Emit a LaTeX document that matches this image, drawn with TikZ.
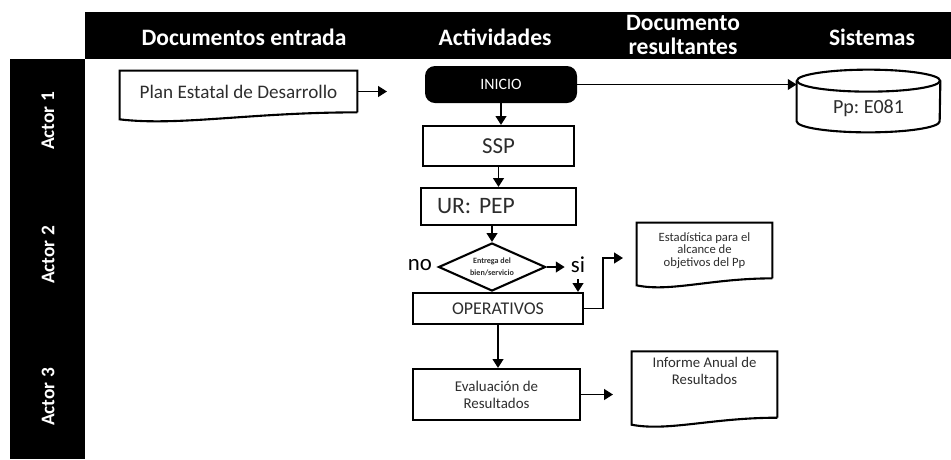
\documentclass[tikz,border=0pt]{standalone}
\usepackage{fontspec}
\setmainfont{Carlito}
\usetikzlibrary{shapes.geometric, arrows.meta, calc}
\frenchspacing

\definecolor{inkgray}{RGB}{45,45,45}

\tikzstyle{lane} = [fill=black]
\tikzstyle{header} = [
    text=white,
    align=center,
    font=\fontsize{13.4}{13.6}\selectfont\bfseries
]
\tikzstyle{actor} = [
    text=white,
    rotate=90,
    font=\fontsize{11}{13}\selectfont\bfseries
]
\tikzstyle{startstop} = [
    rectangle,
    rounded corners=2mm,
    fill=black,
    text=white
]
\tikzstyle{process} = [
    rectangle,
    draw=black,
    line width=1.2pt,
    text=inkgray,
    align=center
]
\tikzstyle{docbox} = [
    rectangle,
    text=inkgray,
    align=center
]
\tikzstyle{decision} = [
    diamond,
    shape aspect=2.2,
    draw=black,
    line width=1.2pt,
    inner sep=0pt,
    text=inkgray,
    align=center
]
\tikzstyle{answer} = [text=black, font=\fontsize{13}{15}\selectfont]
\tikzstyle{connector} = [line width=1.2pt]
\tikzstyle{arrow} = [line width=1.1pt,-{Triangle[length=5pt,width=6pt]}]

% outline of a document node, wavy bottom
\newcommand{\docframe}[1]{%
  \draw[connector] (#1.south east) -- (#1.north east) -- (#1.north west)
    -- ($(#1.south west)+(0,7)$)
    .. controls ($(#1.south west)!0.25!(#1.south east)+(0,14)$)
    and ($(#1.south west)!0.55!(#1.south east)$) .. (#1.south east);
}

\begin{document}
\begin{tikzpicture}[x=0.2mm, y=-0.2mm]
\useasboundingbox (0,0) rectangle (951,459);

% lanes
\fill[lane] (85,12) rectangle (951,59);
\fill[lane] (10,59) rectangle (85,459);

\node (hdoc) [header] at (244,37) {Documentos entrada};
\node (hact) [header] at (495,37) {Actividades};
\node (hres) [header] at (683,35) {Documento\\resultantes};
\node (hsis) [header] at (872,37) {Sistemas};

\node (actor1) [actor] at (48,121) {Actor 1};
\node (actor2) [actor] at (48,255) {Actor 2};
\node (actor3) [actor] at (48,397) {Actor 3};

% input document
\node (plan) [docbox, minimum width=47.4mm, minimum height=8.2mm,
    font=\fontsize{10.9}{12}\selectfont] at (238.5,91.5)
{Plan Estatal de Desarrollo};
\docframe{plan}
\coordinate (planend) at (387,91);

% activities
\node (inicio) [startstop, minimum width=30.4mm, minimum height=7.4mm,
    font=\fontsize{9}{10}\selectfont] at (501,84.5) {INICIO};

\node (ssp) [process, minimum width=30.2mm, minimum height=8mm,
    font=\fontsize{13}{15}\selectfont] at (498.5,146) {SSP};

\node (urpep) [process, text width=24.6mm, inner xsep=3.2mm, align=left,
    minimum height=7.4mm, font=\fontsize{13.4}{15}\selectfont]
    at (498.5,206.5) {UR: PEP};

\node (entrega) [decision, minimum width=21.4mm, minimum height=9.6mm,
    font=\fontsize{4.6}{6.5}\selectfont\bfseries] at (492,267)
{Entrega del\\bien/servicio};

\node (no) [answer] at (420,265) {no};
\node (si) [answer] at (578,265) {si};

\node (operativos) [process, minimum width=34mm, minimum height=6.2mm,
    font=\fontsize{10.2}{12}\selectfont] at (498,308.5) {OPERATIVOS};

\node (evaluacion) [process, minimum width=33.4mm, minimum height=10.2mm,
    font=\fontsize{8.5}{9.6}\selectfont] at (496.5,394.5)
{Evaluación de\\Resultados};

% resulting documents
\node (estadistica) [docbox, minimum width=27mm, minimum height=11mm,
    font=\fontsize{7.2}{7.2}\selectfont] at (704.5,250.5)
{Estadística para el\\alcance de\\objetivos del Pp};
\docframe{estadistica}
\coordinate (estin) at (623,258);

\node (informe) [docbox, minimum width=29mm, minimum height=11mm,
    font=\fontsize{8.4}{9.6}\selectfont] at (704.5,384.5)
{Informe Anual de\\Resultados\\[2mm]};
\docframe{informe}
\coordinate (infin) at (613,393);

% system
\node (sistema) [docbox, minimum width=28.6mm, minimum height=8mm,
    font=\fontsize{11.4}{13}\selectfont] at (868.5,108) {Pp: E081};
\draw[connector] ($(sistema.north)+(0,-7)$) ellipse [x radius=71.5, y radius=11];
\draw[connector] ($(sistema.north west)+(0,-7)$) -- ($(sistema.south west)+(0,-7)$)
    arc[start angle=180, end angle=0, x radius=71.5, y radius=11]
    -- ($(sistema.north east)+(0,-7)$);

% connectors
\draw [arrow] (plan.east) -- (plan.east -| planend);
\draw [arrow] (inicio.east) -- (inicio.east -| sistema.west);
\draw [arrow] (inicio.south) -- (inicio.south |- ssp.north);
\draw [arrow] (ssp.south) -- (ssp.south |- urpep.north);
\draw [arrow] (urpep.south -| entrega.north) -- (entrega.north);
\draw [arrow] (entrega.east) -- (entrega.east -| si.west);
\draw [arrow] (si.south) -- (si.south |- operativos.north);
\draw [arrow] (operativos.east) -- ++(19,0) |- (estin);
\draw [arrow] (operativos.south) -- (operativos.south |- evaluacion.north);
\draw [arrow] (evaluacion.east) -- (evaluacion.east -| infin);

\end{tikzpicture}
\end{document}
